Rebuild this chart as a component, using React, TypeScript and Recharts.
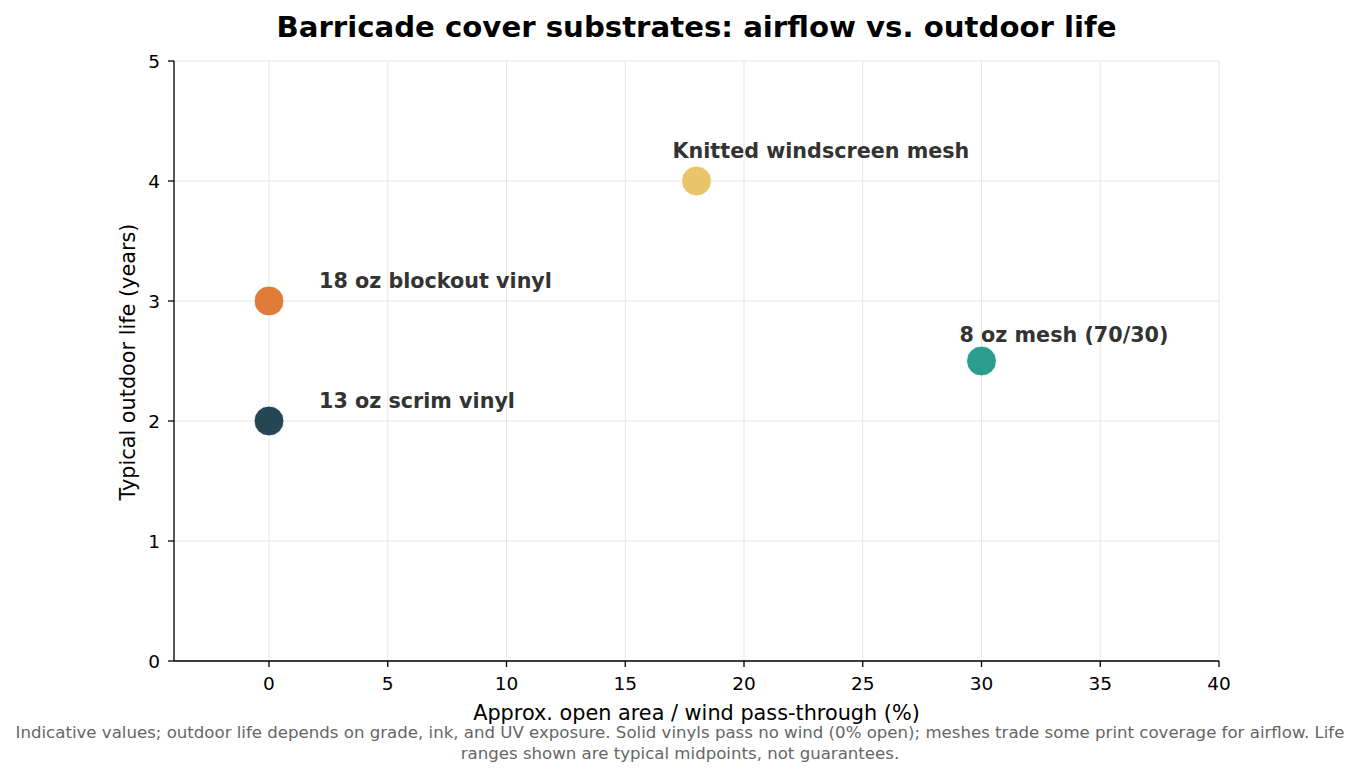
import { ScatterChart, Scatter, XAxis, YAxis, CartesianGrid, Cell } from "recharts";

const materials = ["18 oz blockout vinyl", "13 oz scrim vinyl", "Knitted windscreen mesh", "8 oz mesh (70/30)"];
const openArea = [0, 0, 18, 30];
const lifeYears = [3, 2, 4, 2.5];
const colors = ["#E07B39", "#264653", "#E9C46A", "#2A9D8F"];
const xTicks = [0, 5, 10, 15, 20, 25, 30, 35, 40];
const yTicks = [0, 1, 2, 3, 4, 5];

const points = materials.map((name, i) => ({ name, x: openArea[i], y: lifeYears[i] }));

// label placement relative to the marker, in pixels (start of text, baseline)
const labelOffset: Record<string, [number, number]> = {
  "18 oz blockout vinyl": [50, -13],
  "13 oz scrim vinyl": [50, -13],
  "Knitted windscreen mesh": [-24, -23],
  "8 oz mesh (70/30)": [-22, -19],
};

const font = "DejaVu Sans, sans-serif";

function Dot(props: any) {
  const { cx, cy, payload, fill } = props;
  const [dx, dy] = labelOffset[payload.name] || [0, 0];
  return (
    <g>
      <circle cx={cx} cy={cy} r={15} fill={fill} stroke="#fff" strokeWidth={1} />
      <text x={cx + dx} y={cy + dy} fontFamily={font} fontSize={20.7} fontWeight="bold" fill="#333333">
        {payload.name}
      </text>
    </g>
  );
}

const tickStyle = { fill: "#000", fontSize: 18.5, fontFamily: font };

export default function App() {
  return (
    <div style={{ position: "absolute", left: 0, top: 0, width: 1360, height: 777, background: "#fff" }}>
      <ScatterChart width={1360} height={777} margin={{ top: 61, right: 141, bottom: 76, left: 114 }}>
        <CartesianGrid stroke="#e6e6e6" />
        <XAxis
          type="number"
          dataKey="x"
          domain={[-4, 40]}
          ticks={xTicks}
          allowDataOverflow
          height={40}
          stroke="#000"
          strokeWidth={1.3}
          tickSize={6}
          tickMargin={10}
          tick={tickStyle}
        />
        <YAxis
          type="number"
          dataKey="y"
          domain={[0, 5]}
          ticks={yTicks}
          width={60}
          stroke="#000"
          strokeWidth={1.3}
          tickSize={6}
          tickMargin={8}
          tick={tickStyle}
        />
        <Scatter data={points} shape={<Dot />} isAnimationActive={false}>
          {points.map((p, i) => (
            <Cell key={p.name} fill={colors[i]} />
          ))}
        </Scatter>
      </ScatterChart>
      <svg width={1360} height={777} style={{ position: "absolute", left: 0, top: 0, pointerEvents: "none" }} fontFamily={font}>
        <text x={696.5} y={37} textAnchor="middle" fontSize={29.2} fontWeight="bold" fill="#000">
          Barricade cover substrates: airflow vs. outdoor life
        </text>
        <text x={696.5} y={720} textAnchor="middle" fontSize={20.8} fill="#000">
          Approx. open area / wind pass-through (%)
        </text>
        <text x={135} y={362} textAnchor="middle" fontSize={20.8} fill="#000" transform="rotate(-90 135 362)">
          Typical outdoor life (years)
        </text>
        <text x={680} y={738} textAnchor="middle" fontSize={16.6} fill="#666666">
          Indicative values; outdoor life depends on grade, ink, and UV exposure. Solid vinyls pass no wind (0% open); meshes trade some print coverage for airflow. Life
        </text>
        <text x={680} y={759} textAnchor="middle" fontSize={16.6} fill="#666666">
          ranges shown are typical midpoints, not guarantees.
        </text>
      </svg>
    </div>
  );
}
